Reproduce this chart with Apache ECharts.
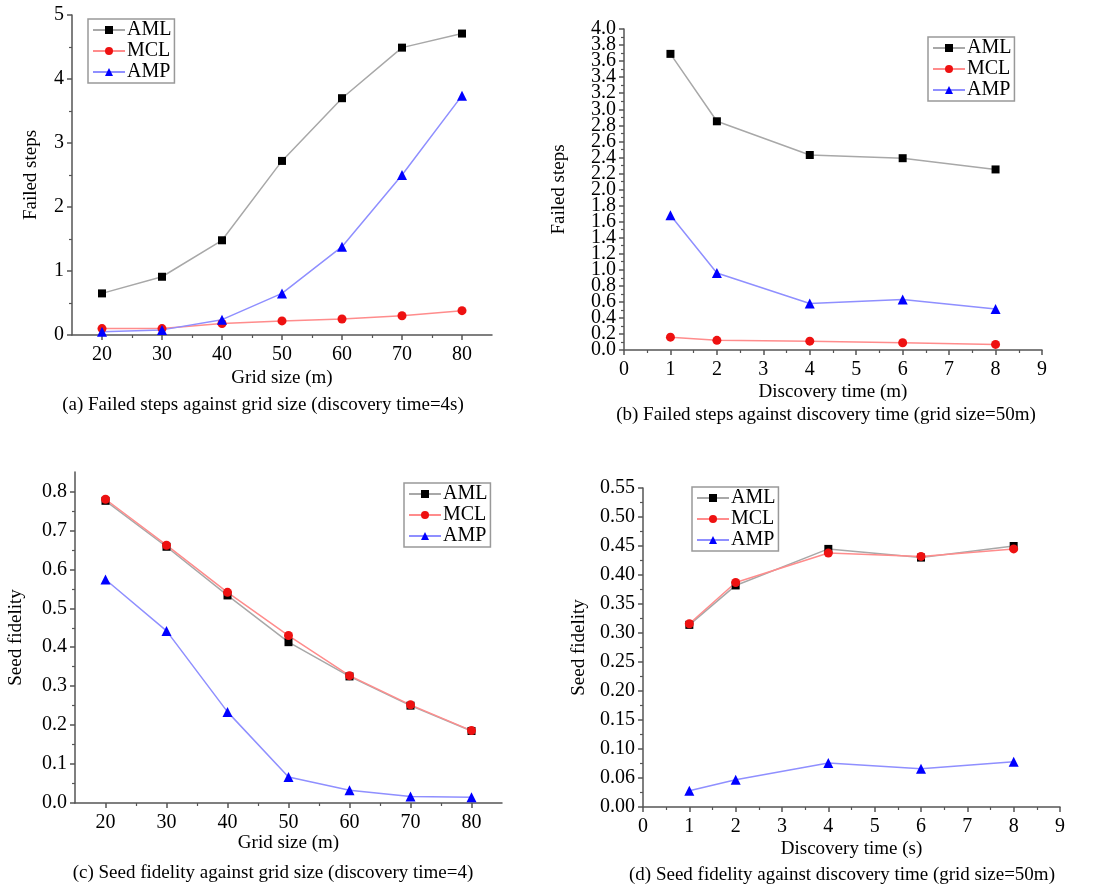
<!DOCTYPE html>
<html>
<head>
    <meta charset="utf-8">
    <title>Failed steps and seed fidelity</title>
    <script src="https://cdn.jsdelivr.net/npm/echarts@6/dist/echarts.min.js"></script>
</head>
<body style="margin:0;background:#fff;">
<div id="main" style="width: 1100px;height:892px;"></div>
<script type="text/javascript">
    // x values
    var gridSize = [20, 30, 40, 50, 60, 70, 80];
    var discTime = [1, 2, 4, 6, 8];

    // (a) failed steps vs grid size
    var aAML = [0.65, 0.91, 1.48, 2.72, 3.70, 4.49, 4.71];
    var aMCL = [0.10, 0.10, 0.18, 0.22, 0.25, 0.30, 0.38];
    var aAMP = [0.05, 0.08, 0.24, 0.65, 1.38, 2.50, 3.74];
    // (b) failed steps vs discovery time
    var bAML = [3.69, 2.85, 2.43, 2.39, 2.25];
    var bMCL = [0.16, 0.12, 0.11, 0.09, 0.07];
    var bAMP = [1.68, 0.96, 0.58, 0.63, 0.51];
    // (c) seed fidelity vs grid size
    var cAML = [0.776, 0.658, 0.533, 0.413, 0.325, 0.250, 0.185];
    var cMCL = [0.780, 0.662, 0.541, 0.430, 0.327, 0.252, 0.186];
    var cAMP = [0.574, 0.442, 0.234, 0.067, 0.033, 0.017, 0.015];
    // (d) seed fidelity vs discovery time
    var dAML = [0.314, 0.382, 0.445, 0.430, 0.450];
    var dMCL = [0.316, 0.387, 0.438, 0.432, 0.445];
    var dAMP = [0.028, 0.047, 0.076, 0.066, 0.078];

    // tick positions / labels
    var gridTicks = [20, 30, 40, 50, 60, 70, 80];
    var gridMinor = [25, 35, 45, 55, 65, 75];
    var timeTicks = [0, 1, 2, 3, 4, 5, 6, 7, 8, 9];
    var timeMinor = [0.5, 1.5, 2.5, 3.5, 4.5, 5.5, 6.5, 7.5, 8.5];
    var aYTicks = [0, 1, 2, 3, 4, 5];
    var aYMinor = [0.5, 1.5, 2.5, 3.5, 4.5];
    var bYTicks = [0, 0.2, 0.4, 0.6, 0.8, 1.0, 1.2, 1.4, 1.6, 1.8, 2.0, 2.2, 2.4, 2.6, 2.8, 3.0, 3.2, 3.4, 3.6, 3.8, 4.0];
    var bYMinor = [0.1, 0.3, 0.5, 0.7, 0.9, 1.1, 1.3, 1.5, 1.7, 1.9, 2.1, 2.3, 2.5, 2.7, 2.9, 3.1, 3.3, 3.5, 3.7, 3.9];
    var cYTicks = [0, 0.1, 0.2, 0.3, 0.4, 0.5, 0.6, 0.7, 0.8];
    var cYMinor = [0.05, 0.15, 0.25, 0.35, 0.45, 0.55, 0.65, 0.75];
    var dYTicks = [0, 0.05, 0.10, 0.15, 0.20, 0.25, 0.30, 0.35, 0.40, 0.45, 0.50, 0.55];
    var dYLabels = ['0.00', '0.06', '0.10', '0.15', '0.20', '0.25', '0.30', '0.35', '0.40', '0.45', '0.50', '0.55'];
    var dYMinor = [0.025, 0.075, 0.125, 0.175, 0.225, 0.275, 0.325, 0.375, 0.425, 0.475, 0.525];

    var captions = [
        '(a) Failed steps against grid size (discovery time=4s)',
        '(b) Failed steps against discovery time (grid size=50m)',
        '(c) Seed fidelity against grid size (discovery time=4)',
        '(d) Seed fidelity against discovery time (grid size=50m)'
    ];

    var FONT = 'Liberation Serif';
    var AXIS_COLOR = '#555';

    // main axis + an overlay axis carrying the short minor ticks;
    // labels are split between the two so crowded ones are not auto-hidden
    function axisPair(dim, grid, min, max, ticks, minor, fmt, name, gap) {
        var evenTicks = ticks.filter(function (t, i) { return i % 2 == 0; });
        var oddTicks = ticks.filter(function (t, i) { return i % 2 == 1; });
        var labelStyle = {
            formatter: fmt, margin: dim == 'x' ? 10 : 8,
            showMinLabel: true, showMaxLabel: true,
            fontFamily: FONT, fontSize: 20, color: '#000'
        };
        var main = {
            type: 'value', gridIndex: grid, min: min, max: max,
            position: dim == 'x' ? 'bottom' : 'left',
            name: name, nameLocation: 'middle', nameGap: gap,
            nameTextStyle: { fontFamily: FONT, fontSize: 19, color: '#000' },
            axisLine: { show: true, onZero: false, lineStyle: { color: AXIS_COLOR, width: 1.5 } },
            axisTick: { show: true, customValues: ticks, length: 5, lineStyle: { color: AXIS_COLOR, width: 1.5 } },
            axisLabel: Object.assign({ customValues: evenTicks }, labelStyle),
            splitLine: { show: false }
        };
        var sub = {
            type: 'value', gridIndex: grid, min: min, max: max,
            position: dim == 'x' ? 'bottom' : 'left',
            axisLine: { show: false, onZero: false },
            axisTick: { show: true, customValues: minor, length: 3, lineStyle: { color: AXIS_COLOR, width: 1.2 } },
            axisLabel: Object.assign({ customValues: oddTicks }, labelStyle),
            splitLine: { show: false }
        };
        return [main, sub];
    }

    var intFmt = function (v) { return String(Math.round(v)); };
    var fix1 = function (v) { return v.toFixed(1); };
    var dFmt = function (v) { return dYLabels[Math.round(v / 0.05)]; };

    var grids = [
        { left: 72, top: 15, width: 420, height: 320 },
        { left: 624, top: 29, width: 418, height: 321 },
        { left: 75, top: 472, width: 427, height: 331 },
        { left: 643, top: 488, width: 417, height: 319 }
    ];

    var xAxes = [].concat(
        axisPair('x', 0, 15, 85, gridTicks, gridMinor, intFmt, 'Grid size (m)', 34),
        axisPair('x', 1, 0, 9, timeTicks, timeMinor, intFmt, 'Discovery time (m)', 33),
        axisPair('x', 2, 15, 85, gridTicks, gridMinor, intFmt, 'Grid size (m)', 31),
        axisPair('x', 3, 0, 9, timeTicks, timeMinor, intFmt, 'Discovery time (s)', 33)
    );
    var yAxes = [].concat(
        axisPair('y', 0, 0, 5, aYTicks, aYMinor, intFmt, 'Failed steps', 31),
        axisPair('y', 1, 0, 4, bYTicks, bYMinor, fix1, 'Failed steps', 55),
        axisPair('y', 2, 0, 0.85, cYTicks, cYMinor, fix1, 'Seed fidelity', 49),
        axisPair('y', 3, 0, 0.55, dYTicks, dYMinor, dFmt, 'Seed fidelity', 54)
    );

    var styles = {
        AML: { symbol: 'rect', size: 8, line: '#a8a8a8', mark: '#000000' },
        MCL: { symbol: 'circle', size: 9, line: '#ff8c8c', mark: '#ee1111' },
        AMP: { symbol: 'triangle', size: 10, line: '#8f8fff', mark: '#0000ff' }
    };

    function pairs(xs, ys) {
        return xs.map(function (x, i) { return [x, ys[i]]; });
    }

    function makeSeries(name, grid, xs, ys) {
        var s = styles[name];
        return {
            name: name, type: 'line',
            xAxisIndex: grid * 2, yAxisIndex: grid * 2,
            data: pairs(xs, ys),
            symbol: s.symbol, symbolSize: s.size,
            lineStyle: { color: s.line, width: 1.5 },
            itemStyle: { color: s.mark },
            animation: false
        };
    }

    var series = [
        makeSeries('AML', 0, gridSize, aAML), makeSeries('MCL', 0, gridSize, aMCL), makeSeries('AMP', 0, gridSize, aAMP),
        makeSeries('AML', 1, discTime, bAML), makeSeries('MCL', 1, discTime, bMCL), makeSeries('AMP', 1, discTime, bAMP),
        makeSeries('AML', 2, gridSize, cAML), makeSeries('MCL', 2, gridSize, cMCL), makeSeries('AMP', 2, gridSize, cAMP),
        makeSeries('AML', 3, discTime, dAML), makeSeries('MCL', 3, discTime, dMCL), makeSeries('AMP', 3, discTime, dAMP)
    ];

    function legendAt(left, top) {
        return {
            left: left, top: top, orient: 'vertical',
            data: ['AML', 'MCL', 'AMP'],
            itemWidth: 32, itemHeight: 10, itemGap: 1,
            padding: [1, 3, 1, 4],
            borderColor: '#999', borderWidth: 1.5,
            textStyle: { fontFamily: FONT, fontSize: 20, color: '#000', padding: [0, 0, 0, -3] }
        };
    }

    var captionPos = [[263, 405], [826, 415], [273, 873], [842, 875]];
    var graphics = captions.map(function (t, i) {
        return {
            type: 'text', x: captionPos[i][0], y: captionPos[i][1],
            style: { text: t, fontFamily: FONT, fontSize: 19, fill: '#000',
                textAlign: 'center', textVerticalAlign: 'middle' }
        };
    });

    var myChart = echarts.init(document.getElementById('main'));
    var option = {
        backgroundColor: '#fff',
        animation: false,
        grid: grids,
        xAxis: xAxes,
        yAxis: yAxes,
        legend: [legendAt(88, 19), legendAt(928, 37), legendAt(404, 483), legendAt(692, 487)],
        graphic: graphics,
        series: series
    };
    myChart.setOption(option);
</script>
</body>
</html>
